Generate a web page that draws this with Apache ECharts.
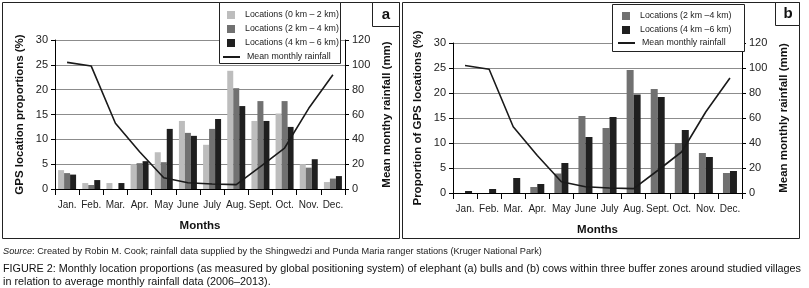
<!DOCTYPE html>
<html><head><meta charset="utf-8">
<script src="https://cdn.jsdelivr.net/npm/echarts@6/dist/echarts.min.js"></script>
<style>html,body{margin:0;padding:0;background:#fff}#c{width:809px;height:288px}</style>
</head><body><div id="c"></div>
<script>
const months = ['Jan.','Feb.','Mar.','Apr.','May','June','July','Aug.','Sept.','Oct.','Nov.','Dec.'];
const rainfall = [102, 99, 53, 30, 9, 5, 4, 3.5, 18, 33, 65, 92];
// panel a: bulls
const bulls0to2 = [3.8, 1.2, 1.2, 5.0, 7.4, 13.7, 8.9, 23.8, 13.7, 15.2, 5.0, 1.4];
const bulls2to4 = [3.2, 0.8, 0, 5.2, 5.4, 11.3, 12.1, 20.3, 17.7, 17.7, 4.3, 2.1];
const bulls4to6 = [2.9, 1.8, 1.2, 5.6, 12.1, 10.7, 14.1, 16.7, 13.7, 12.5, 6.0, 2.6];
// panel b: cows
const cows2to4 = [0, 0, 0, 1.2, 3.9, 15.4, 13.0, 24.6, 20.8, 10.0, 8.0, 4.0];
const cows4to6 = [0.4, 0.8, 3.0, 1.8, 6.0, 11.2, 15.2, 19.7, 19.2, 12.6, 7.2, 4.4];
const leftTicks = [0, 5, 10, 15, 20, 25, 30];
const rightTicks = [0, 20, 40, 60, 80, 100, 120];

const FONT = 'Liberation Sans';
const C_LIGHT = '#bdbdbd', C_MID = '#717171', C_DARK = '#1f1f1f';

function xAx(gi){
  return {type:'category', gridIndex:gi, data:months, boundaryGap:true,
    axisLine:{lineStyle:{color:'#000',width:1}},
    axisTick:{show:true, length:6, lineStyle:{color:'#000'}, alignWithLabel:false},
    axisLabel:{interval:0, color:'#222', fontFamily:FONT, fontSize:10, margin:11},
    name:'Months', nameLocation:'middle', nameGap:31,
    nameTextStyle:{fontFamily:FONT, fontSize:11.5, fontWeight:'bold', color:'#111'}};
}
function yLeft(gi, name){
  return {type:'value', gridIndex:gi, position:'left', min:leftTicks[0], max:leftTicks[leftTicks.length-1], interval:5,
    axisLine:{show:true, lineStyle:{color:'#000'}},
    axisTick:{show:true, length:4, lineStyle:{color:'#000'}},
    axisLabel:{color:'#222', fontFamily:FONT, fontSize:11, margin:7},
    splitLine:{show:true, lineStyle:{color:'#8c8c8c', width:1}},
    name:name, nameLocation:'middle', nameGap:29, nameRotate:90,
    nameTextStyle:{fontFamily:FONT, fontSize:11.5, fontWeight:'bold', color:'#111'}};
}
function yRight(gi, name){
  return {type:'value', gridIndex:gi, position:'right', min:rightTicks[0], max:rightTicks[rightTicks.length-1], interval:20,
    axisLine:{show:true, lineStyle:{color:'#000'}},
    axisTick:{show:true, length:4, lineStyle:{color:'#000'}},
    axisLabel:{color:'#222', fontFamily:FONT, fontSize:11, margin:7},
    splitLine:{show:false},
    name:name, nameLocation:'middle', nameGap:36, nameRotate:90,
    nameTextStyle:{fontFamily:FONT, fontSize:11.5, fontWeight:'bold', color:'#111'}};
}
function bar(name, data, color, xi, yi, w){
  return {type:'bar', name:name, data:data, xAxisIndex:xi, yAxisIndex:yi, barWidth:w, barGap:'0%',
    itemStyle:{color:color}, z:2};
}
function rainLine(xi, yi){
  return {type:'line', name:'Mean monthly rainfall', data:rainfall, xAxisIndex:xi, yAxisIndex:yi,
    symbol:'none', lineStyle:{color:'#1a1a1a', width:1.6}, itemStyle:{color:'#1a1a1a'}, z:3};
}
const legText = {fontFamily:FONT, fontSize:8.8, color:'#222', padding:[0,0,0,5]};
function squareLegend(names, left, top){
  return {orient:'vertical', left:left, top:top, padding:0, itemWidth:8, itemHeight:8, itemGap:5,
    icon:'rect', data:names, textStyle:legText, selectedMode:false};
}
function lineLegend(left, top){
  return {orient:'vertical', left:left, top:top, padding:0, itemWidth:17, itemHeight:2, itemGap:5,
    data:[{name:'Mean monthly rainfall', icon:'rect'}], textStyle:{...legText, padding:[0,0,0,2]}, selectedMode:false};
}

const chart = echarts.init(document.getElementById('c'), null, {renderer:'canvas'});
chart.setOption({
  animation:false,
  backgroundColor:'#fff',
  grid:[
    {left:55, right:809-345, top:40, bottom:288-189},
    {left:453, right:809-742, top:43, bottom:288-193}
  ],
  xAxis:[xAx(0), xAx(1)],
  yAxis:[
    yLeft(0,'GPS location proportions (%)'),
    yRight(0,'Mean monthy rainfall (mm)'),
    yLeft(1,'Proportion of GPS locations (%)'),
    yRight(1,'Mean monthly rainfall (mm)')
  ],
  legend:[
    squareLegend(['Locations (0 km \u2013 2 km)','Locations (2 km \u2013 4 km)','Locations (4 km \u2013 6 km)'], 227, 10.5),
    lineLegend(223, 52.5),
    squareLegend(['Locations (2 km \u20134 km)','Locations (4 km \u20136 km)'], 622, 11.5),
    lineLegend(618, 38.5)
  ],
  series:[
    bar('Locations (0 km \u2013 2 km)', bulls0to2, C_LIGHT, 0, 0, 6),
    bar('Locations (2 km \u2013 4 km)', bulls2to4, C_MID, 0, 0, 6),
    bar('Locations (4 km \u2013 6 km)', bulls4to6, C_DARK, 0, 0, 6),
    rainLine(0, 1),
    bar('Locations (2 km \u20134 km)', cows2to4, C_MID, 1, 2, 7),
    bar('Locations (4 km \u20136 km)', cows4to6, C_DARK, 1, 2, 7),
    rainLine(1, 3)
  ],
  graphic:[
    {type:'rect', shape:{x:2.5, y:2.5, width:397, height:236}, style:{fill:null, stroke:'#222', lineWidth:1}, z:-1, silent:true},
    {type:'rect', shape:{x:402.5, y:2.5, width:397, height:236}, style:{fill:null, stroke:'#222', lineWidth:1}, z:-1, silent:true},
    {type:'rect', shape:{x:219.5, y:2.5, width:121, height:61}, style:{fill:'#fff', stroke:'#222', lineWidth:1}, z:1, silent:true},
    {type:'rect', shape:{x:612.5, y:4.5, width:132, height:47}, style:{fill:'#fff', stroke:'#222', lineWidth:1}, z:1, silent:true},
    {type:'rect', shape:{x:372.5, y:2.5, width:27, height:24}, style:{fill:'#fff', stroke:'#222', lineWidth:1}, z:5, silent:true},
    {type:'text', x:386, y:15, style:{text:'a', font:'bold 15px '+FONT, fill:'#111', align:'center', verticalAlign:'middle'}, z:6},
    {type:'rect', shape:{x:775.5, y:2.5, width:24, height:23}, style:{fill:'#fff', stroke:'#222', lineWidth:1}, z:5, silent:true},
    {type:'text', x:788, y:14, style:{text:'b', font:'bold 15px '+FONT, fill:'#111', align:'center', verticalAlign:'middle'}, z:6},
    {type:'text', left:3, top:247, style:{text:'{i|Source}: Created by Robin M. Cook; rainfall data supplied by the Shingwedzi and Punda Maria ranger stations (Kruger National Park)',
      fontFamily:FONT, fontSize:9.2, fill:'#222', rich:{i:{fontStyle:'italic', fontFamily:FONT, fontSize:9.2, fill:'#222'}}}},
    {type:'text', left:3, top:264, style:{text:'FIGURE 2: Monthly location proportions (as measured by global positioning system) of elephant (a) bulls and (b) cows within three buffer zones around studied villages',
      fontFamily:FONT, fontSize:10.8, fill:'#111'}},
    {type:'text', left:3, top:277, style:{text:'in relation to average monthly rainfall data (2006\u20132013).',
      fontFamily:FONT, fontSize:10.8, fill:'#111'}}
  ]
});
</script></body></html>
